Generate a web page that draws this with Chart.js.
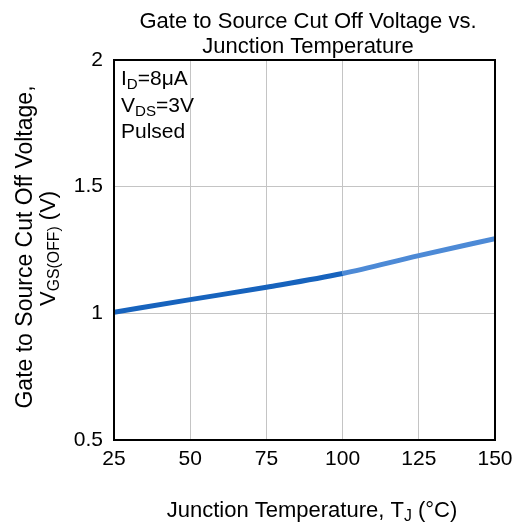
<!DOCTYPE html>
<html>
<head>
<meta charset="utf-8">
<script src="https://cdn.jsdelivr.net/npm/chart.js@4/dist/chart.umd.min.js"></script>
<style>
  html, body { margin: 0; padding: 0; background: #fff; }
  canvas { display: block; }
</style>
</head>
<body>
<canvas id="chart" width="514" height="524"></canvas>
<script>
    // data
    const temps = [25, 50, 75, 100, 125, 150];
    const vgsOff = [1.004, 1.054, 1.103, 1.157, 1.228, 1.295];
    const xTicks = [25, 50, 75, 100, 125, 150];
    const yTicks = [0.5, 1, 1.5, 2];

    const FONT = '"Liberation Sans", Arial, sans-serif';

    // draw a run of text pieces, some of them subscripted
    function drawRich(ctx, parts, x, y, size, align) {
        let total = 0;
        parts.forEach(p => {
            ctx.font = (p.sub ? size * 0.72 : size) + 'px ' + FONT;
            total += ctx.measureText(p.t).width;
        });
        let cx = x;
        if (align === 'center') cx = x - total / 2;
        else if (align === 'right') cx = x - total;
        ctx.textAlign = 'left';
        ctx.textBaseline = 'alphabetic';
        parts.forEach(p => {
            ctx.font = (p.sub ? size * 0.72 : size) + 'px ' + FONT;
            ctx.fillText(p.t, cx, p.sub ? y + size * 0.18 : y);
            cx += ctx.measureText(p.t).width;
        });
    }

    const textPlugin = {
        id: 'textPlugin',
        afterDraw(chart) {
            const ctx = chart.ctx;
            const a = chart.chartArea;
            ctx.save();
            // frame
            ctx.strokeStyle = '#000';
            ctx.lineWidth = 2;
            ctx.strokeRect(a.left, a.top, a.right - a.left, a.bottom - a.top);

            ctx.fillStyle = '#000';
            drawRich(ctx, [{ t: 'Gate to Source Cut Off Voltage vs.' }], 308, 28, 22, 'center');
            drawRich(ctx, [{ t: 'Junction Temperature' }], 308, 53, 22, 'center');

            // conditions box
            drawRich(ctx, [{ t: 'I' }, { t: 'D', sub: true }, { t: '=8\u03bcA' }], 121, 85, 21, 'left');
            drawRich(ctx, [{ t: 'V' }, { t: 'DS', sub: true }, { t: '=3V' }], 121, 112, 21, 'left');
            drawRich(ctx, [{ t: 'Pulsed' }], 121, 138, 21, 'left');

            // x axis title
            drawRich(ctx, [{ t: 'Junction Temperature, T' }, { t: 'J', sub: true }, { t: ' (\u00b0C)' }], 312, 517, 22, 'center');

            // y axis title, rotated
            ctx.save();
            ctx.translate(32, 0);
            ctx.rotate(-Math.PI / 2);
            drawRich(ctx, [{ t: 'Gate to Source Cut Off Voltage,' }], -247, 0, 23, 'center');
            ctx.restore();
            ctx.save();
            ctx.translate(55, 0);
            ctx.rotate(-Math.PI / 2);
            drawRich(ctx, [{ t: 'V' }, { t: 'GS(OFF)', sub: true }, { t: ' (V)' }], -306, 0, 22, 'left');
            ctx.restore();

            ctx.restore();
        }
    };

    const ctx = document.getElementById('chart').getContext('2d');
    new Chart(ctx, {
        type: 'line',
        data: {
            labels: temps,
            datasets: [{
                data: temps.map((t, i) => ({ x: t, y: vgsOff[i] })),
                borderColor: '#1763bd',
                borderWidth: 5,
                pointRadius: 0,
                fill: false,
                cubicInterpolationMode: 'monotone',
                segment: {
                    borderColor: c => c.p0.parsed.x >= 100 ? '#4d8ad6' : '#1763bd'
                }
            }]
        },
        options: {
            responsive: false,
            animation: false,
            layout: { padding: { top: 60, right: 19, left: 0, bottom: 0 } },
            plugins: {
                legend: { display: false },
                tooltip: { enabled: false }
            },
            scales: {
                x: {
                    type: 'linear',
                    min: 25,
                    max: 150,
                    afterBuildTicks: s => { s.ticks = xTicks.map(v => ({ value: v })); },
                    afterFit: s => { s.height = 84; s.paddingLeft = 0; s.paddingRight = 0; },
                    grid: { color: '#c4c4c4', lineWidth: 1, drawTicks: false },
                    border: { display: false },
                    ticks: {
                        color: '#000',
                        padding: 7,
                        font: { family: FONT, size: 21 },
                        callback: v => String(v)
                    }
                },
                y: {
                    min: 0.5,
                    max: 2,
                    afterBuildTicks: s => { s.ticks = yTicks.map(v => ({ value: v })); },
                    afterFit: s => { s.width = 114; s.paddingTop = 0; s.paddingBottom = 0; },
                    grid: { color: '#c4c4c4', lineWidth: 1, drawTicks: false },
                    border: { display: false },
                    ticks: {
                        color: '#000',
                        padding: 11,
                        font: { family: FONT, size: 21 },
                        callback: v => String(v)
                    }
                }
            }
        },
        plugins: [textPlugin]
    });
</script>
</body>
</html>
